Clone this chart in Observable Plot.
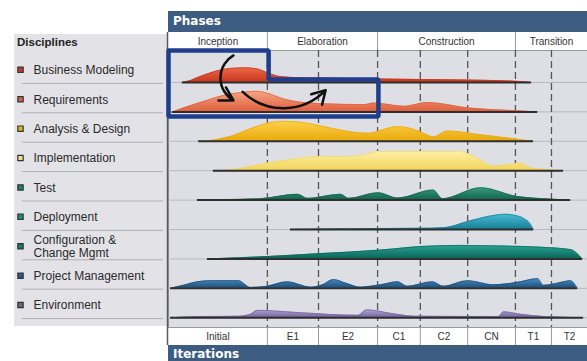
<!DOCTYPE html>
<html><head><meta charset="utf-8">
<script src="https://cdn.jsdelivr.net/npm/d3@7"></script>
<script src="https://cdn.jsdelivr.net/npm/@observablehq/plot@0.6"></script>
<style>
body{margin:0;background:#fff;width:587px;height:361px;overflow:hidden;position:relative;font-family:"Liberation Sans",Arial,sans-serif;}
#panel{position:absolute;left:14px;top:34px;width:153px;height:292px;background:#e3e3e7;}
.bar{position:absolute;left:168px;width:419px;background:#3d5c82;color:#fff;font:bold 12px "DejaVu Sans",sans-serif;padding-left:5px;box-sizing:border-box;}
#phases{top:11px;height:21px;line-height:21px;}
#iters{top:345px;height:16px;line-height:19px;}
#disc{position:absolute;left:17px;top:36px;font:bold 11.5px "Liberation Sans",Arial,sans-serif;color:#222;}
#chart{position:absolute;left:0;top:0;}
</style></head><body>
<div id="panel"></div>
<div class="bar" id="phases">Phases</div>
<div class="bar" id="iters">Iterations</div>
<div id="disc">Disciplines</div>
<div id="chart"></div>
<script>
// ---- data ----
const disciplines = ["Business Modeling","Requirements","Analysis & Design","Implementation","Test","Deployment","Configuration &\nChange Mgmt","Project Management","Environment"];
const phases = ["Inception","Elaboration","Construction","Transition"];
const phaseEnds = [23.6, 49.9, 82.8, 100];
const iterations = ["Initial","E1","E2","C1","C2","CN","T1","T2"];
const iterationEnds = [23.6, 35.8, 49.9, 60.1, 71.4, 82.8, 91.4, 100];

// effort profiles: [time (% of project), relative effort]
const businessModeling = [[3.3,0],[5.5,0.08],[7.6,0.2],[11.2,0.38],[14.8,0.48],[18.4,0.5],[21.5,0.45],[23.6,0.33],[26.7,0.2],[31,0.16],[36.3,0.15],[50.6,0.12],[67.3,0.09],[81.6,0.05],[86.6,0]];
const requirements = [[0.9,0],[7.2,0.3],[12.9,0.55],[18.4,0.68],[21.2,0.7],[23.2,0.65],[28,0.42],[32.7,0.31],[36.7,0.28],[47,0.25],[48.8,0.3],[51.5,0.27],[56.2,0.19],[61.8,0.32],[71.8,0.13],[82.8,0.04],[88.1,0]];
const analysisDesign = [[7.2,0],[10,0.03],[15.3,0.19],[20,0.45],[23.2,0.6],[27.9,0.68],[32.7,0.62],[38.7,0.45],[44.6,0.3],[47.7,0.27],[51.8,0.42],[54.7,0.5],[58.2,0.42],[61.3,0.25],[63.2,0.15],[66.6,0.35],[74.5,0.22],[82.8,0.08],[87.1,0]];
const implementation = [[10.7,0],[14.8,0.03],[23.2,0.25],[31.5,0.42],[36.3,0.48],[42.2,0.48],[47,0.55],[50.1,0.65],[69.7,0.65],[73.3,0.45],[77.6,0.16],[84,0.25],[86.4,0.1],[90,0.04],[94.3,0]];
const test = [[6.9,0],[14.8,0.02],[22,0.05],[30.8,0.2],[33.2,0.06],[41.1,0.2],[43,0.06],[50.1,0.25],[54.7,0.07],[63.2,0.34],[65.4,0.05],[74.5,0.42],[83.3,0.12],[91.9,0.03],[95.9,0]];
const deployment = [[29.1,0],[38.7,0.02],[60.1,0.04],[65.6,0.06],[72.1,0.3],[76.8,0.46],[80.4,0.52],[82.8,0.48],[85,0.36],[86.4,0.18],[87.1,0]];
const configuration = [[9.3,0],[23.6,0.08],[36.3,0.18],[50.6,0.3],[60.1,0.42],[69.7,0.46],[79.2,0.44],[88.8,0.4],[95.9,0.32],[98.8,0]];
const projectManagement = [[0.5,0],[4.1,0.12],[6.9,0.22],[10,0.26],[16.7,0.26],[19.6,0.03],[23.2,0.06],[28.4,0.22],[33.9,0.04],[36.8,0.12],[39.4,0.3],[42.2,0.18],[45.8,0.04],[50.6,0.12],[54.7,0.22],[57,0.07],[63,0.22],[65.6,0.07],[71.4,0.26],[77.6,0.12],[84,0.22],[88.1,0.33],[89.5,0.1],[93.6,0.2],[95.9,0.26],[97.6,0]];
const environment = [[0.5,0],[7.6,0.04],[16.5,0.05],[19.6,0.12],[21.2,0.25],[31.5,0.17],[45.3,0.08],[47.3,0.27],[53,0.15],[58.5,0.05],[78.8,0.04],[80,0.2],[84,0.12],[89.5,0.04],[99,0]];
const profiles = [businessModeling, requirements, analysisDesign, implementation, test, deployment, configuration, projectManagement, environment];

const topColors = ["#ec6a48","#f4a585","#fdd24a","#fdf1a6","#3c9c7c","#48bcd0","#2aa494","#4c92c4","#b2a8d8"];
const bottomColors = ["#c8361e","#e0603e","#e9a90c","#f2d45e","#12654c","#17809a","#0b665c","#1b4f7c","#75649e"];
const squareColors = ["#c0392b","#d0604a","#d8b820","#e8e090","#208060","#208888","#1a7a70","#2a5a88","#666a80"];

// annotation: highlighted region and arrows
const focusBox = [[0,-1.088],[23.9,-1.088],[23.9,-0.1],[50.1,-0.1],[50.1,1.16],[0,1.16],[0,-1.088]];
const arrowDown = [{x1:15.5, y1:-0.92, x2:15.5, y2:0.61}];
const arrowRight = [{x1:17.7, y1:0.32, x2:37.5, y2:0.26}];

// ---- chart ----
const mids = (ends) => ends.map((e,i) => ((i ? ends[i-1] : 0) + e) / 2);
const labelOffset = -0.43;

const humpMarks = profiles.flatMap((p, i) => [
  Plot.areaY(p, {x: d => d[0], y1: () => i, y2: d => i - d[1], fill: `url(#grad${i})`, curve: "monotone-x"}),
  Plot.line(p, {x: d => d[0], y: d => i - d[1], stroke: bottomColors[i], strokeOpacity: 0.7, strokeWidth: 1, curve: "monotone-x"}),
  Plot.ruleY([i], {x1: p[0][0], x2: p[p.length-1][0], stroke: "#2e2e2e", strokeWidth: 2})
]);

const plot = Plot.plot({
  width: 587, height: 361,
  marginLeft: 168, marginRight: 0, marginTop: 50, marginBottom: 34,
  style: {background: "transparent", overflow: "visible", fontFamily: "Liberation Sans, Arial, sans-serif"},
  x: {domain: [0, 100], axis: null},
  y: {domain: [-1.088, 8.333], reverse: true, axis: null},
  marks: [
    Plot.frame({fill: "#dedfe5", stroke: "#9a9aa2"}),
    Plot.ruleY(d3.range(9), {stroke: "#b8b9c1", strokeWidth: 1}),
    Plot.ruleY(d3.range(9).map(i => i + 0.03), {insetLeft: -146, insetRight: 424, stroke: "#aeaeb6", strokeWidth: 1}),
    Plot.ruleX(iterationEnds.slice(0, -1), {stroke: "#555", strokeDasharray: "7,4", strokeWidth: 1.3}),
    Plot.ruleX(phaseEnds.slice(0, -1), {insetTop: -18, insetBottom: 277, stroke: "#9a9aa2"}),
    Plot.ruleX(iterationEnds.slice(0, -1), {insetTop: 277, insetBottom: -18, stroke: "#9a9aa2"}),
    Plot.ruleX([0], {insetTop: -18, insetBottom: -18, stroke: "#5a5a60", strokeWidth: 1.5, dx: -1}),
    Plot.text(phases, {x: mids(phaseEnds), text: d => d, frameAnchor: "top", lineAnchor: "middle", dy: -9, fontSize: 10, fill: "#333"}),
    Plot.text(iterations, {x: mids(iterationEnds), text: d => d, frameAnchor: "bottom", lineAnchor: "middle", dy: 9, fontSize: 10, fill: "#333"}),
    ...humpMarks,
    Plot.line(focusBox, {x: d => d[0], y: d => d[1], stroke: "#1f3f8c", strokeWidth: 4.5, strokeLinejoin: "miter"}),
    Plot.arrow(arrowDown, {x1: "x1", y1: "y1", x2: "x2", y2: "y2", bend: -60, stroke: "#111", strokeWidth: 2.5, headLength: 9}),
    Plot.arrow(arrowRight, {x1: "x1", y1: "y1", x2: "x2", y2: "y2", bend: -45, stroke: "#111", strokeWidth: 2.5, headLength: 9}),
    Plot.text(disciplines, {y: (d, i) => i + labelOffset, text: d => d, frameAnchor: "left", dx: -135, textAnchor: "start", fontSize: 12, fill: "#2a2a2a", lineHeight: 1.12}),
    Plot.dot(disciplines, {y: (d, i) => i + labelOffset, frameAnchor: "left", dx: -148, symbol: "square", r: 3, fill: (d, i) => squareColors[i], stroke: "#333", strokeWidth: 1.2})
  ]
});

// vertical gradients (light top -> darker base)
const defs = d3.select(plot).insert("defs", ":first-child");
profiles.forEach((p, i) => {
  const g = defs.append("linearGradient").attr("id", `grad${i}`).attr("x1", 0).attr("y1", 0).attr("x2", 0).attr("y2", 1);
  g.append("stop").attr("offset", "0%").attr("stop-color", topColors[i]);
  g.append("stop").attr("offset", "100%").attr("stop-color", bottomColors[i]);
});
document.getElementById("chart").appendChild(plot);
</script>
</body></html>
